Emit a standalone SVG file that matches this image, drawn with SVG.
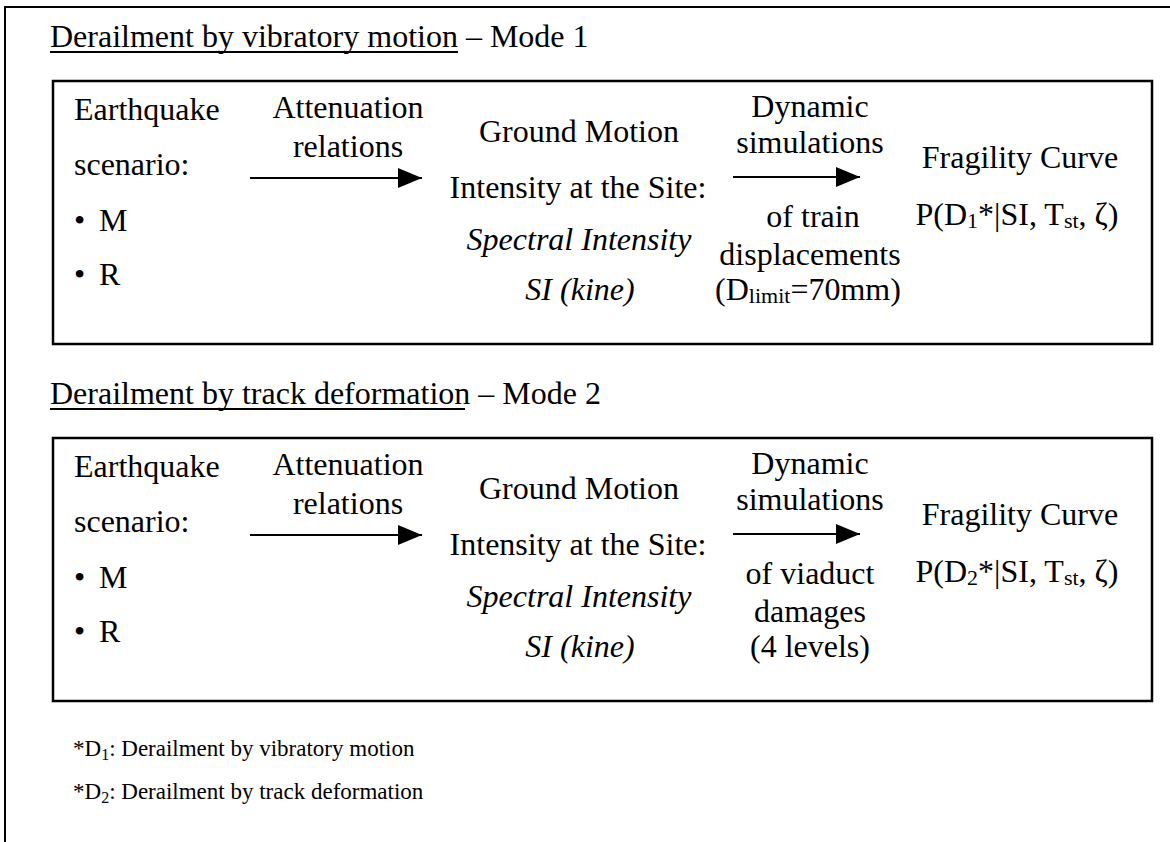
<svg xmlns="http://www.w3.org/2000/svg" width="1170" height="842" viewBox="0 0 1170 842">
<style>
text{font-family:"Liberation Serif","Times New Roman",serif;fill:#000}
.b{font-size:32px}
.c{font-size:32px;text-anchor:middle}
.i{font-style:italic}
.h{font-size:32px}
.f{font-size:23px}
.box{fill:none;stroke:#000;stroke-width:2.5}
.frame{fill:none;stroke:#000;stroke-width:2}
.conn{stroke:#000;stroke-width:2;fill:none}
</style>
<defs>
<marker id="ah2" markerWidth="24" markerHeight="20" refX="24" refY="10" orient="auto" markerUnits="userSpaceOnUse">
<path d="M0,0 L24,10 L0,20 z" fill="#000"/>
</marker>
</defs>
<rect width="1170" height="842" fill="#fff"/>
<path class="frame" d="M5,842 V7 H1170"/>

<g id="heading1">
<text class="h" x="50" y="47">Derailment by vibratory motion – Mode 1</text>
<line x1="50" y1="52" x2="458" y2="52" stroke="#000" stroke-width="2"/>
</g>

<g id="mode1">
<rect id="box1" class="box" x="53" y="81" width="1099" height="263"/>
<g id="m1-scenario">
<text class="b" x="74" y="120">Earthquake</text>
<text class="b" x="74" y="175">scenario:</text>
<text class="b" y="231"><tspan x="74">•</tspan><tspan x="99">M</tspan></text>
<text class="b" y="285"><tspan x="74">•</tspan><tspan x="99">R</tspan></text>
</g>
<g id="m1-attenuation">
<text class="c" x="348" y="118">Attenuation</text>
<text class="c" x="348" y="157">relations</text>
</g>
<g id="m1-ground">
<text class="c" x="579" y="142">Ground Motion</text>
<text class="c" x="578" y="198">Intensity at the Site:</text>
<text class="c i" x="579" y="250">Spectral Intensity</text>
<text class="c i" x="580" y="300">SI (kine)</text>
</g>
<g id="m1-dynamic">
<text class="c" x="810" y="117">Dynamic</text>
<text class="c" x="810" y="153">simulations</text>
<text class="c" x="813" y="227">of train</text>
<text class="c" x="810" y="265">displacements</text>
<text class="c" x="808" y="300">(D<tspan font-size="22" dy="3">limit</tspan><tspan dy="-3">=70mm)</tspan></text>
</g>
<g id="m1-fragility">
<text class="c" x="1020" y="168">Fragility Curve</text>
<text class="c" x="1017" y="225">P(D<tspan font-size="22" dy="3">1</tspan><tspan dy="-3">*|SI, T</tspan><tspan font-size="22" dy="3">st</tspan><tspan dy="-3">, ζ)</tspan></text>
</g>
</g>

<g id="heading2">
<text class="h" x="50" y="404">Derailment by track deformation – Mode 2</text>
<line x1="50" y1="409" x2="465" y2="409" stroke="#000" stroke-width="2"/>
</g>

<g id="mode2">
<rect id="box2" class="box" x="53" y="438" width="1099" height="263"/>
<g id="m2-scenario">
<text class="b" x="74" y="477">Earthquake</text>
<text class="b" x="74" y="532">scenario:</text>
<text class="b" y="588"><tspan x="74">•</tspan><tspan x="99">M</tspan></text>
<text class="b" y="642"><tspan x="74">•</tspan><tspan x="99">R</tspan></text>
</g>
<g id="m2-attenuation">
<text class="c" x="348" y="475">Attenuation</text>
<text class="c" x="348" y="514">relations</text>
</g>
<g id="m2-ground">
<text class="c" x="579" y="499">Ground Motion</text>
<text class="c" x="578" y="555">Intensity at the Site:</text>
<text class="c i" x="579" y="607">Spectral Intensity</text>
<text class="c i" x="580" y="657">SI (kine)</text>
</g>
<g id="m2-dynamic">
<text class="c" x="810" y="474">Dynamic</text>
<text class="c" x="810" y="510">simulations</text>
<text class="c" x="810" y="584">of viaduct</text>
<text class="c" x="810" y="622">damages</text>
<text class="c" x="810" y="657">(4 levels)</text>
</g>
<g id="m2-fragility">
<text class="c" x="1020" y="525">Fragility Curve</text>
<text class="c" x="1017" y="582">P(D<tspan font-size="22" dy="3">2</tspan><tspan dy="-3">*|SI, T</tspan><tspan font-size="22" dy="3">st</tspan><tspan dy="-3">, ζ)</tspan></text>
</g>
</g>

<g id="connectors">
<line class="conn" x1="250" y1="178" x2="422" y2="178" marker-end="url(#ah2)"/>
<line class="conn" x1="733" y1="177" x2="860" y2="177" marker-end="url(#ah2)"/>
<line class="conn" x1="250" y1="535" x2="422" y2="535" marker-end="url(#ah2)"/>
<line class="conn" x1="733" y1="534" x2="860" y2="534" marker-end="url(#ah2)"/>
</g>

<g id="footnotes">
<text class="f" x="73" y="756">*D<tspan font-size="16" dy="4">1</tspan><tspan dy="-4">: Derailment by vibratory motion</tspan></text>
<text class="f" x="73" y="799">*D<tspan font-size="16" dy="4">2</tspan><tspan dy="-4">: Derailment by track deformation</tspan></text>
</g>
</svg>
